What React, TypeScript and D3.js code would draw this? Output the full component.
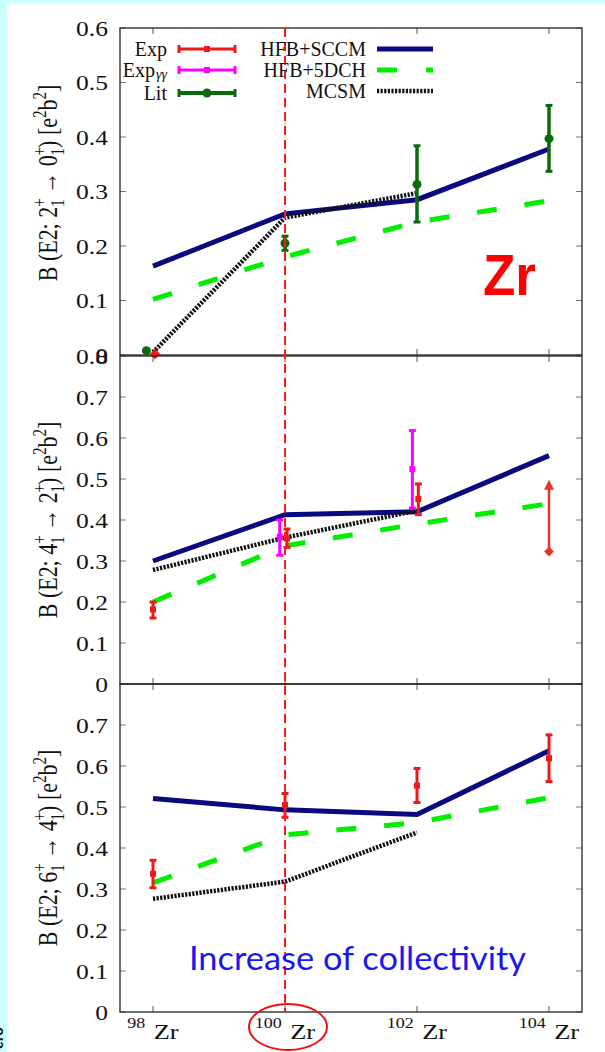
import React, { useEffect, useRef } from "react";
import * as d3 from "d3";

const W = 605;
const H = 1052;

// mass numbers on the x axis
const nuclei = [98, 100, 102, 104];
const xTickLabels = ["98", "100", "102", "104"];
const mcsmNuclei = [98, 100, 102];

// B(E2; 2+ -> 0+)
const sccm20 = [0.163, 0.259, 0.285, 0.378];
const dch20 = [0.102, 0.18, 0.244, 0.283];
const mcsm20 = [0.005, 0.252, 0.297];
const lit20 = [
  { a: 97.9, v: 0.008, lo: 0.008, hi: 0.008 },
  { a: 100, v: 0.205, lo: 0.192, hi: 0.218 },
  { a: 102, v: 0.313, lo: 0.244, hi: 0.384 },
  { a: 104, v: 0.397, lo: 0.337, hi: 0.458 },
];
const expDiamond20 = [{ a: 98.03, v: 0.002 }];

// B(E2; 4+ -> 2+)
const sccm42 = [0.3, 0.413, 0.42, 0.557];
const dch42 = [0.2, 0.337, 0.39, 0.44];
const mcsm42 = [0.278, 0.357, 0.423];
const exp42 = [
  { a: 98, v: 0.182, lo: 0.161, hi: 0.2 },
  { a: 100.03, v: 0.355, lo: 0.333, hi: 0.378 },
  { a: 102.02, v: 0.451, lo: 0.413, hi: 0.488 },
];
const expgg42 = [
  { a: 99.92, v: 0.359, lo: 0.314, hi: 0.4 },
  { a: 101.93, v: 0.524, lo: 0.429, hi: 0.618 },
];
const lowerLimit42 = [{ a: 104, v: 0.323, to: 0.498 }];

// B(E2; 6+ -> 4+)
const sccm64 = [0.521, 0.493, 0.482, 0.637];
const dch64 = [0.315, 0.432, 0.462, 0.523];
const mcsm64 = [0.276, 0.318, 0.438];
const exp64 = [
  { a: 98, v: 0.337, lo: 0.303, hi: 0.37 },
  { a: 100, v: 0.505, lo: 0.475, hi: 0.533 },
  { a: 102, v: 0.552, lo: 0.511, hi: 0.594 },
  { a: 104, v: 0.619, lo: 0.562, hi: 0.676 },
];

const ticks20 = [0, 0.1, 0.2, 0.3, 0.4, 0.5, 0.6];
const ticks42 = [0, 0.1, 0.2, 0.3, 0.4, 0.5, 0.6, 0.7, 0.8];
const ticks64 = [0, 0.1, 0.2, 0.3, 0.4, 0.5, 0.6, 0.7];

const NAVY = "#0a0a80";
const LIME = "#00ee00";
const RED = "#f01818";
const MAG = "#ff00ff";
const DKGREEN = "#0b6b0b";
const SERIF = "'Liberation Serif', 'Times New Roman', serif";

export default function App() {
  const ref = useRef<SVGSVGElement>(null);

  useEffect(() => {
    const node = ref.current;
    if (!node) return;
    const svg = d3.select(node);
    svg.selectAll("*").remove();

    const L = 120, R = 582;
    const x = d3.scaleLinear().domain([97.5, 104.5]).range([L, R]);

    // slide background
    svg.append("rect").attr("width", W).attr("height", H).attr("fill", "#ccffff");
    svg.append("rect").attr("x", 7).attr("y", 3).attr("width", W - 7).attr("height", H - 3).attr("fill", "#fff");
    // cut-off slide text at the left edge
    svg.append("text").attr("transform", "translate(3,1049) rotate(-90)").attr("font-family", "Liberation Sans")
      .attr("font-weight", "bold").attr("font-size", 14).attr("fill", "#111").text("ero");

    const panels = [
      { top: 28, bottom: 355, max: 0.6, ticks: ticks20, sccm: sccm20, dch: dch20, mcsm: mcsm20, ji: "2", jf: "0", ty: 183 },
      { top: 356, bottom: 684, max: 0.8, ticks: ticks42, sccm: sccm42, dch: dch42, mcsm: mcsm42, ji: "4", jf: "2", ty: 520 },
      { top: 684, bottom: 1012, max: 0.8, ticks: ticks64, sccm: sccm64, dch: dch64, mcsm: mcsm64, ji: "6", jf: "4", ty: 848 },
    ];

    const errBars = (g: any, y: any, pts: any[], color: string, w: number, marker: string) => {
      pts.forEach(d => {
        const cx = x(d.a);
        g.append("line").attr("x1", cx).attr("x2", cx).attr("y1", y(d.lo)).attr("y2", y(d.hi))
          .attr("stroke", color).attr("stroke-width", w);
        [d.lo, d.hi].forEach(v => {
          if (d.lo === d.hi) return;
          g.append("line").attr("x1", cx - 3.5).attr("x2", cx + 3.5).attr("y1", y(v)).attr("y2", y(v))
            .attr("stroke", color).attr("stroke-width", 3);
        });
        if (marker === "circle") {
          g.append("circle").attr("cx", cx).attr("cy", y(d.v)).attr("r", 4.5).attr("fill", color);
        } else {
          g.append("rect").attr("x", cx - 3).attr("y", y(d.v) - 3).attr("width", 6).attr("height", 6).attr("fill", color);
        }
      });
    };

    panels.forEach((p, i) => {
      const y = d3.scaleLinear().domain([0, p.max]).range([p.bottom, p.top]);
      const g = svg.append("g");

      // ticks
      p.ticks.forEach(t => {
        g.append("line").attr("x1", L).attr("x2", L + 6).attr("y1", y(t)).attr("y2", y(t)).attr("stroke", "#777");
        g.append("line").attr("x1", R - 6).attr("x2", R).attr("y1", y(t)).attr("y2", y(t)).attr("stroke", "#777");
        g.append("text").attr("transform", `translate(108,${y(t)}) scale(1.16,1)`).attr("dy", "0.36em")
          .attr("text-anchor", "end").attr("font-family", SERIF).attr("font-size", 22).attr("fill", "#111")
          .text(t === 0 ? "0" : d3.format(".1f")(t));
      });
      nuclei.forEach(a => {
        g.append("line").attr("x1", x(a)).attr("x2", x(a)).attr("y1", p.bottom).attr("y2", p.bottom - 6).attr("stroke", "#555");
        g.append("line").attr("x1", x(a)).attr("x2", x(a)).attr("y1", p.top).attr("y2", p.top + 6).attr("stroke", "#555");
      });
      g.append("rect").attr("x", L).attr("y", p.top).attr("width", R - L).attr("height", p.bottom - p.top)
        .attr("fill", "none").attr("stroke", "#222").attr("stroke-width", 1.3);

      const line = d3.line<[number, number]>().x(d => x(d[0])).y(d => y(d[1]));
      g.append("path").attr("d", line(nuclei.map((a, k) => [a, p.sccm[k]]))).attr("fill", "none")
        .attr("stroke", NAVY).attr("stroke-width", 5);
      g.append("path").attr("d", line(nuclei.map((a, k) => [a, p.dch[k]]))).attr("fill", "none")
        .attr("stroke", LIME).attr("stroke-width", 5).attr("stroke-dasharray", "20,28");
      g.append("path").attr("d", line(mcsmNuclei.map((a, k) => [a, p.mcsm[k]]))).attr("fill", "none")
        .attr("stroke", "#111").attr("stroke-width", 4.5).attr("stroke-dasharray", "2.2,1.4");

      // data points
      if (i === 0) {
        errBars(g, y, lit20, DKGREEN, 3.5, "circle");
        expDiamond20.forEach(d => {
          g.append("path").attr("d", d3.symbol(d3.symbolDiamond2, 70)())
            .attr("transform", `translate(${x(d.a)},${y(d.v)})`).attr("fill", RED);
        });
      }
      if (i === 1) {
        errBars(g, y, expgg42, MAG, 3, "square");
        errBars(g, y, exp42, RED, 3, "square");
        lowerLimit42.forEach(d => {
          const cx = x(d.a);
          g.append("line").attr("x1", cx).attr("x2", cx).attr("y1", y(d.v)).attr("y2", y(d.to) + 8)
            .attr("stroke", "#e8322a").attr("stroke-width", 2.5);
          g.append("path").attr("d", `M${cx - 5},${y(d.to) + 10}L${cx},${y(d.to)}L${cx + 5},${y(d.to) + 10}Z`)
            .attr("fill", "#e8322a");
          g.append("path").attr("d", d3.symbol(d3.symbolDiamond2, 60)())
            .attr("transform", `translate(${cx},${y(d.v)})`).attr("fill", "#e8322a");
        });
      }
      if (i === 2) {
        errBars(g, y, exp64, RED, 3, "square");
      }

      // y axis title (glyphs stretched like the source figure)
      const t = svg.append("text").attr("transform", `translate(57,${p.ty}) rotate(-90) scale(1,1.22)`)
        .attr("text-anchor", "middle").attr("font-family", SERIF).attr("font-size", 22).attr("fill", "#111");
      t.append("tspan").text(`B (E2; ${p.ji}`);
      t.append("tspan").attr("dy", -9).attr("font-size", 15).text("+");
      t.append("tspan").attr("dx", -8.5).attr("dy", 15).attr("font-size", 15).text("1");
      t.append("tspan").attr("dy", -6).text(` \u2192 ${p.jf}`);
      t.append("tspan").attr("dy", -9).attr("font-size", 15).text("+");
      t.append("tspan").attr("dx", -8.5).attr("dy", 15).attr("font-size", 15).text("1");
      t.append("tspan").attr("dy", -6).text(") [e");
      t.append("tspan").attr("dy", -9).attr("font-size", 15).text("2");
      t.append("tspan").attr("dy", 9).text("b");
      t.append("tspan").attr("dy", -9).attr("font-size", 15).text("2");
      t.append("tspan").attr("dy", 9).text("]");
    });

    // x tick labels: superscript mass number + element, centred on the tick
    nuclei.forEach((a, k) => {
      const t = svg.append("text").attr("transform", `translate(${x(a)},1039) scale(1.2,1)`)
        .attr("text-anchor", "middle").attr("font-family", SERIF).attr("fill", "#111");
      t.append("tspan").attr("dy", -11).attr("font-size", 15).text(xTickLabels[k]);
      t.append("tspan").attr("dx", 7).attr("dy", 11).attr("font-size", 22).text("Zr");
    });

    // vertical marker at 100Zr
    svg.append("line").attr("x1", x(100)).attr("x2", x(100)).attr("y1", 28).attr("y2", 1012)
      .attr("stroke", "#ff1a1a").attr("stroke-width", 2).attr("stroke-dasharray", "9,5");
    svg.append("ellipse").attr("cx", 288).attr("cy", 1027).attr("rx", 39).attr("ry", 23)
      .attr("fill", "none").attr("stroke", "#ee1111").attr("stroke-width", 2);

    // legend
    const leg = svg.append("g").attr("font-family", SERIF).attr("font-size", 20).attr("fill", "#111");
    const legPts = [
      { label: "Exp", sub: "", color: RED, y: 49, marker: "square" },
      { label: "Exp", sub: "\u03b3\u03b3", color: MAG, y: 70, marker: "square" },
      { label: "Lit", sub: "", color: DKGREEN, y: 93, marker: "circle" },
    ];
    legPts.forEach(d => {
      leg.append("text").attr("x", d.sub ? 155 : 167).attr("y", d.y).attr("dy", "0.35em").attr("text-anchor", "end").text(d.label);
      if (d.sub) {
        leg.append("text").attr("x", 156).attr("y", d.y + 9).attr("font-size", 14).attr("font-style", "italic").text(d.sub);
      }
      leg.append("line").attr("x1", 179).attr("x2", 235).attr("y1", d.y).attr("y2", d.y).attr("stroke", d.color).attr("stroke-width", d.marker === "circle" ? 4 : 3);
      [179, 235].forEach(cx => {
        leg.append("line").attr("x1", cx).attr("x2", cx).attr("y1", d.y - 4).attr("y2", d.y + 4).attr("stroke", d.color).attr("stroke-width", 3);
      });
      if (d.marker === "circle") leg.append("circle").attr("cx", 207).attr("cy", d.y).attr("r", 4.5).attr("fill", d.color);
      else leg.append("rect").attr("x", 204).attr("y", d.y - 3).attr("width", 6).attr("height", 6).attr("fill", d.color);
    });
    const legLines = [
      { label: "HFB+SCCM", y: 49, stroke: NAVY, dash: null, w: 5 },
      { label: "HFB+5DCH", y: 70, stroke: LIME, dash: "20,29", w: 5 },
      { label: "MCSM", y: 91, stroke: "#111", dash: "2.2,1.4", w: 4.5 },
    ];
    legLines.forEach(d => {
      leg.append("text").attr("x", 366).attr("y", d.y).attr("dy", "0.35em").attr("text-anchor", "end").text(d.label);
      leg.append("line").attr("x1", 377).attr("x2", 433).attr("y1", d.y).attr("y2", d.y)
        .attr("stroke", d.stroke).attr("stroke-width", d.w).attr("stroke-dasharray", d.dash);
    });

    // annotations
    svg.append("text").attr("x", 483).attr("y", 295).attr("font-family", "Liberation Sans").attr("font-weight", "bold")
      .attr("font-size", 58).attr("textLength", 53).attr("lengthAdjust", "spacingAndGlyphs").attr("fill", "#ff0000").text("Zr");
    svg.append("text").attr("x", 189).attr("y", 970).attr("font-family", "Lato").attr("font-size", 32)
      .attr("textLength", 337).attr("lengthAdjust", "spacingAndGlyphs").attr("fill", "#1818f0").text("Increase of collectivity");
  }, []);

  return <svg ref={ref} width={W} height={H} style={{ position: "absolute", left: 0, top: 0, display: "block" }} />;
}
